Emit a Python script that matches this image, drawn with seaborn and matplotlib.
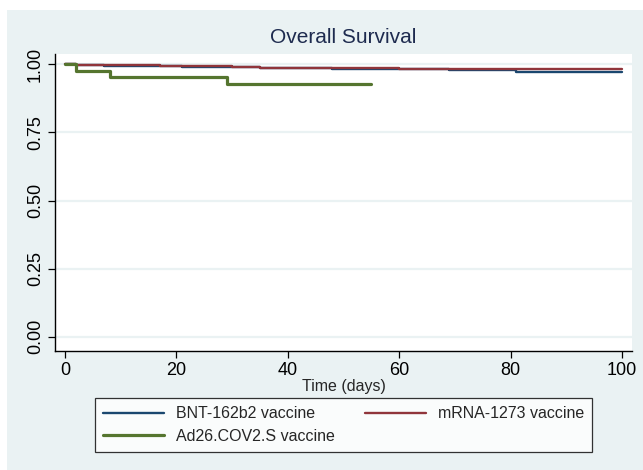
import matplotlib
matplotlib.use("Agg")
import matplotlib.pyplot as plt
from matplotlib.patches import Rectangle
from matplotlib.lines import Line2D
import seaborn as sns
import pandas as pd

# ---- data ----
bnt_time = [0, 2, 7, 10, 21, 35, 40, 48, 56, 69, 81, 100]
bnt_surv = [1.0, 0.997, 0.995, 0.993, 0.991, 0.988, 0.986, 0.984, 0.982, 0.979, 0.972, 0.972]

mrna_time = [0, 2, 14, 17, 30, 35, 45, 60, 100]
mrna_surv = [1.0, 0.998, 0.996, 0.994, 0.992, 0.988, 0.986, 0.983, 0.983]

ad26_time = [0, 2, 8, 29, 55]
ad26_surv = [1.0, 0.976, 0.952, 0.929, 0.929]

labels = ["BNT-162b2 vaccine", "mRNA-1273 vaccine", "Ad26.COV2.S vaccine"]
colors = ["#1A476F", "#90353B", "#55752F"]
x_ticks = [0, 20, 40, 60, 80, 100]
y_ticks = [0.00, 0.25, 0.50, 0.75, 1.00]

df = pd.concat([
    pd.DataFrame({"time": bnt_time, "surv": bnt_surv, "group": labels[0]}),
    pd.DataFrame({"time": mrna_time, "surv": mrna_surv, "group": labels[1]}),
    pd.DataFrame({"time": ad26_time, "surv": ad26_surv, "group": labels[2]}),
], ignore_index=True)

sns.set_style("ticks")
plt.rcParams["font.family"] = ["Liberation Sans", "DejaVu Sans"]

BG = "#EAF2F3"
fig = plt.figure(figsize=(6.43, 4.70), dpi=100, facecolor="white")
fig.patches.append(Rectangle((7 / 643, 0), 1, 1 - 10 / 470, transform=fig.transFigure,
                             facecolor=BG, edgecolor="none", zorder=-10))

ax = fig.add_axes([55 / 643, 1 - 351 / 470, (632 - 55) / 643, (351 - 54) / 470])
ax.set_facecolor("white")

for y in y_ticks:
    ax.axhline(y, color=BG, lw=1.6, zorder=0)

sns.lineplot(data=df, x="time", y="surv", hue="group", hue_order=labels,
             palette=colors, estimator=None, sort=False, drawstyle="steps-post",
             linewidth=1.7, ax=ax, legend=False)
ax.lines[-1].set_linewidth(2.3)

ax.set_xlim(-1.8, 101.8)
ax.set_ylim(-0.052, 1.038)
ax.set_xticks(x_ticks)
ax.set_yticks(y_ticks)
ax.set_yticklabels([f"{v:.2f}" for v in y_ticks], rotation=90, va="center")
ax.tick_params(axis="both", labelsize=13, length=5, width=0.9, color="black",
               labelcolor="black", pad=3)
for s in ["top", "right"]:
    ax.spines[s].set_visible(False)
for s in ["left", "bottom"]:
    ax.spines[s].set_color("black")
    ax.spines[s].set_linewidth(1.0)

ax.set_xlabel("Time (days)", fontsize=11.5, labelpad=0)
ax.set_ylabel("")
ax.set_title("Overall Survival", fontsize=15, color="#1E2B4F", pad=8)

handles = [Line2D([], [], color=colors[0], lw=1.7),
           Line2D([], [], color=colors[2], lw=2.3),
           Line2D([], [], color=colors[1], lw=1.7)]
leg_labels = [labels[0], labels[2], labels[1]]
leg = fig.legend(handles, leg_labels, ncol=2, loc="center",
                 bbox_to_anchor=((95 + 592) / 2 / 643, 1 - 425 / 470),
                 frameon=True, fancybox=False, edgecolor="black", facecolor="white",
                 fontsize=11.5, handlelength=3.8, handletextpad=0.75,
                 columnspacing=1.9, borderpad=0.5, labelspacing=0.45,
                 borderaxespad=0)
leg.get_frame().set_linewidth(0.9)

fig.savefig("out.png", dpi=100, facecolor=fig.get_facecolor())
